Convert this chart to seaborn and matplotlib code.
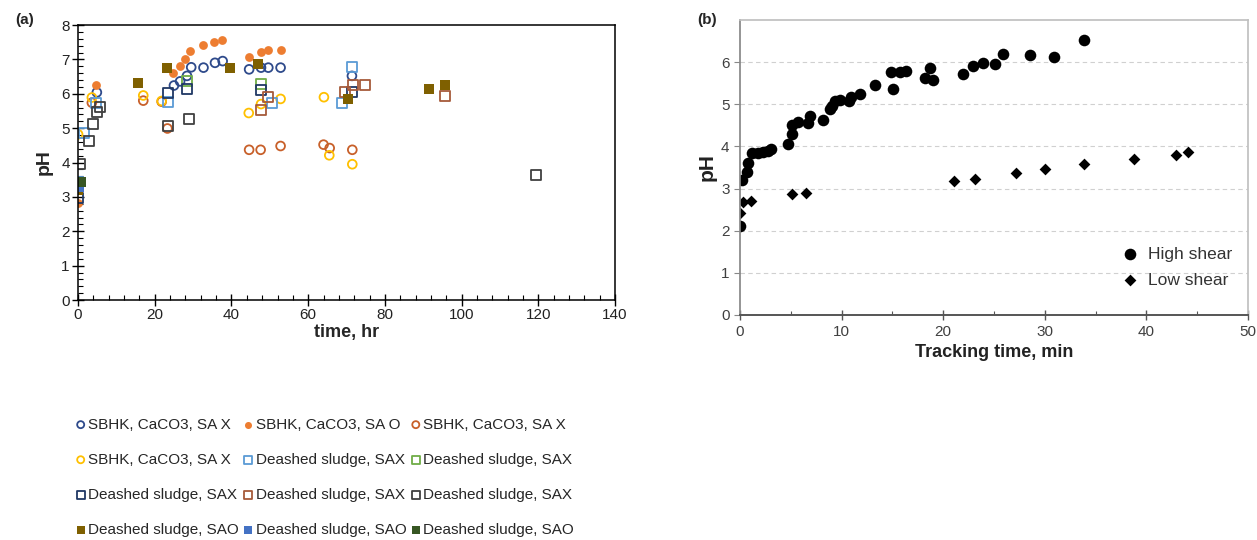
import numpy as np
import pandas as pd
import seaborn as sns
import matplotlib.pyplot as plt
from matplotlib.ticker import MultipleLocator

# ---------------- panel (a): pH vs time, hr ----------------
sbhk_x_x = [4.9, 25.0, 26.6, 28.4, 29.5, 32.7, 35.7, 37.7, 44.6, 47.7, 49.6, 52.8, 71.4]
sbhk_x_y = [6.04, 6.24, 6.36, 6.52, 6.77, 6.76, 6.90, 6.95, 6.71, 6.76, 6.76, 6.76, 6.52]

sbhk_o_x = [0.0, 4.7, 24.8, 26.5, 28.0, 29.3, 32.6, 35.5, 37.6, 44.6, 47.7, 49.6, 52.8]
sbhk_o_y = [2.83, 6.25, 6.61, 6.82, 7.02, 7.24, 7.43, 7.52, 7.57, 7.08, 7.21, 7.27, 7.26]

sbhk_x2_x = [3.6, 17.0, 21.8, 23.3, 44.6, 47.6, 52.8, 64.0, 65.6, 71.5]
sbhk_x2_y = [5.74, 5.80, 5.77, 4.99, 4.37, 4.37, 4.48, 4.52, 4.42, 4.37]

sbhk_x3_x = [0.0, 3.6, 17.0, 21.8, 44.5, 47.7, 52.8, 64.1, 65.5, 71.5]
sbhk_x3_y = [4.82, 5.89, 5.95, 5.79, 5.44, 5.70, 5.85, 5.90, 4.21, 3.95]

ds_x1_x = [0.0, 1.6, 4.7, 23.4, 50.5, 68.8, 71.5]
ds_x1_y = [3.42, 4.87, 5.74, 5.75, 5.74, 5.74, 6.77]

ds_x2_x = [28.4, 47.6]
ds_x2_y = [6.38, 6.27]

ds_x3_x = [0.0, 23.4, 28.4, 47.6, 71.5]
ds_x3_y = [2.98, 6.01, 6.15, 6.11, 6.06]

ds_x4_x = [47.6, 49.6, 69.6, 71.6, 74.7, 95.7]
ds_x4_y = [5.54, 5.90, 6.06, 6.25, 6.25, 5.93]

ds_x5_x = [0.5, 2.9, 3.8, 4.9, 5.7, 23.5, 29.0, 119.4]
ds_x5_y = [3.95, 4.63, 5.12, 5.48, 5.62, 5.06, 5.27, 3.65]

ds_o1_x = [0.0, 15.7, 23.3, 39.7, 46.8, 70.5, 91.5, 95.7]
ds_o1_y = [3.20, 6.32, 6.75, 6.75, 6.87, 5.84, 6.14, 6.25]

ds_o2_x = [0.2]
ds_o2_y = [3.30]

ds_o3_x = [0.7]
ds_o3_y = [3.44]

series_a = [
    ("SBHK, CaCO3, SA X", sbhk_x_x, sbhk_x_y, "o", "#2E4A8B", False),
    ("SBHK, CaCO3, SA O", sbhk_o_x, sbhk_o_y, "o", "#ED7D31", True),
    ("SBHK, CaCO3, SA X", sbhk_x2_x, sbhk_x2_y, "o", "#C8602A", False),
    ("SBHK, CaCO3, SA X", sbhk_x3_x, sbhk_x3_y, "o", "#FFC000", False),
    ("Deashed sludge, SAX", ds_x1_x, ds_x1_y, "s", "#5B9BD5", False),
    ("Deashed sludge, SAX", ds_x2_x, ds_x2_y, "s", "#70AD47", False),
    ("Deashed sludge, SAX", ds_x3_x, ds_x3_y, "s", "#203864", False),
    ("Deashed sludge, SAX", ds_x4_x, ds_x4_y, "s", "#A65A3A", False),
    ("Deashed sludge, SAX", ds_x5_x, ds_x5_y, "s", "#404040", False),
    ("Deashed sludge, SAO", ds_o1_x, ds_o1_y, "s", "#7F6000", True),
    ("Deashed sludge, SAO", ds_o2_x, ds_o2_y, "s", "#4472C4", True),
    ("Deashed sludge, SAO", ds_o3_x, ds_o3_y, "s", "#375623", True),
]

# ---------------- panel (b): pH vs tracking time ----------------
high_t = [0.0, 0.16, 0.65, 0.82, 1.15, 1.8, 2.3, 2.8, 3.1, 4.75, 5.07, 5.14, 5.73,
          6.71, 6.94, 8.18, 8.84, 9.1, 9.33, 9.82, 10.74, 10.97, 11.78, 13.26,
          14.83, 15.06, 15.71, 16.3, 18.17, 18.66, 18.99, 22.0, 22.9, 23.9,
          25.1, 25.9, 28.5, 30.9, 33.9]
high_ph = [2.11, 3.21, 3.40, 3.60, 3.84, 3.84, 3.86, 3.88, 3.94, 4.05, 4.29, 4.51, 4.57,
           4.55, 4.73, 4.63, 4.89, 4.95, 5.07, 5.09, 5.07, 5.17, 5.25, 5.46,
           5.76, 5.37, 5.76, 5.80, 5.62, 5.86, 5.58, 5.72, 5.91, 5.98,
           5.96, 6.20, 6.18, 6.11, 6.52]

low_t = [0.0, 0.33, 1.08, 5.07, 6.48, 21.1, 23.1, 27.2, 30.0, 33.9, 38.8, 42.9, 44.1]
low_ph = [2.41, 2.69, 2.71, 2.87, 2.89, 3.17, 3.23, 3.37, 3.46, 3.58, 3.70, 3.80, 3.86]

sns.set_theme(style="white")
plt.rcParams["font.family"] = ["Liberation Sans", "DejaVu Sans"]

fig = plt.figure(figsize=(12.57, 5.4), dpi=100)
axA = fig.add_axes([0.0621, 0.4444, 0.4272, 0.5093])
axB = fig.add_axes([0.5887, 0.4167, 0.4041, 0.5463])

for label, xs, ys, mk, col, filled in series_a:
    df = pd.DataFrame({"time": xs, "pH": ys})
    size = 40 if mk == "o" else 52
    sns.scatterplot(data=df, x="time", y="pH", ax=axA, marker=mk, s=size,
                    facecolor=col if filled else "none", edgecolor=col,
                    linewidth=0 if filled else 1.3, label=label, legend=False)

axA.set_xlim(0, 140)
axA.set_ylim(0, 8)
axA.xaxis.set_major_locator(MultipleLocator(20))
axA.xaxis.set_minor_locator(MultipleLocator(4))
axA.yaxis.set_major_locator(MultipleLocator(1))
axA.yaxis.set_minor_locator(MultipleLocator(0.2))
axA.tick_params(which="major", direction="inout", length=8, width=1, color="black",
                labelsize=11, labelcolor="#222222", bottom=True, left=True, pad=2)
axA.tick_params(which="minor", direction="in", length=3.5, width=0.8, color="black",
                bottom=True, left=True)
for sp in axA.spines.values():
    sp.set_color("black")
    sp.set_linewidth(1.1)
axA.set_xlabel("time, hr", fontsize=13, fontweight="bold", labelpad=1)
axA.set_ylabel("pH", fontsize=14, fontweight="bold", labelpad=6)

# legend of panel (a), laid out row by row beneath the axes
handles, labels = axA.get_legend_handles_labels()
order = [0, 3, 6, 9, 1, 4, 7, 10, 2, 5, 8, 11]
legA = fig.legend([handles[i] for i in order], [labels[i] for i in order],
                  loc="upper left", bbox_to_anchor=(0.049, 0.252), ncol=3,
                  frameon=False, markerscale=0.8, handletextpad=0.15,
                  columnspacing=0.25, labelspacing=1.38, handlelength=0.7,
                  prop={"family": ["Liberation Sans", "DejaVu Sans"], "size": 11})

# panel (b)
high = pd.DataFrame({"t": high_t, "pH": high_ph})
low = pd.DataFrame({"t": low_t, "pH": low_ph})
axB.yaxis.grid(True, linestyle=(0, (4, 3)), color="#d0d0d0", linewidth=0.8)
axB.set_axisbelow(True)
sns.scatterplot(data=high, x="t", y="pH", ax=axB, marker="o", s=70, color="black",
                linewidth=0, label="High shear", legend=False)
sns.scatterplot(data=low, x="t", y="pH", ax=axB, marker="D", s=36, color="black",
                linewidth=0, label="Low shear", legend=False)
axB.set_xlim(0, 50)
axB.set_ylim(0, 7)
axB.set_yticks(range(0, 7))
axB.xaxis.set_major_locator(MultipleLocator(10))
axB.xaxis.set_minor_locator(MultipleLocator(5))
axB.tick_params(axis="x", which="major", direction="inout", length=7, width=1,
                color="#555555", labelsize=11, labelcolor="#404040", bottom=True)
axB.tick_params(axis="x", which="minor", direction="in", length=3, width=0.8,
                color="#555555", bottom=True)
axB.tick_params(axis="y", which="major", direction="out", length=4, width=0.8,
                color="#888888", labelsize=11, labelcolor="#404040", left=True)
axB.spines["left"].set_color("#888888")
axB.spines["bottom"].set_color("#555555")
axB.spines["bottom"].set_linewidth(1.4)
axB.spines["top"].set_color("#c0c0c0")
axB.spines["right"].set_color("#c0c0c0")
axB.set_xlabel("Tracking time, min", fontsize=13, fontweight="bold", color="#222222", labelpad=4)
axB.set_ylabel("pH", fontsize=15, fontweight="bold", color="#222222", labelpad=3)
axB.legend(loc="lower right", bbox_to_anchor=(1.0, 0.04), frameon=False,
           handletextpad=0.05, labelspacing=0.6, fontsize=12.5, labelcolor="#333333")

fig.text(15 / 1257, 1 - 20 / 540, "(a)", fontsize=11, fontweight="bold", va="center")
fig.text(697 / 1257, 1 - 20 / 540, "(b)", fontsize=11, fontweight="bold", va="center")

fig.savefig("out.png", dpi=100, facecolor="white")
